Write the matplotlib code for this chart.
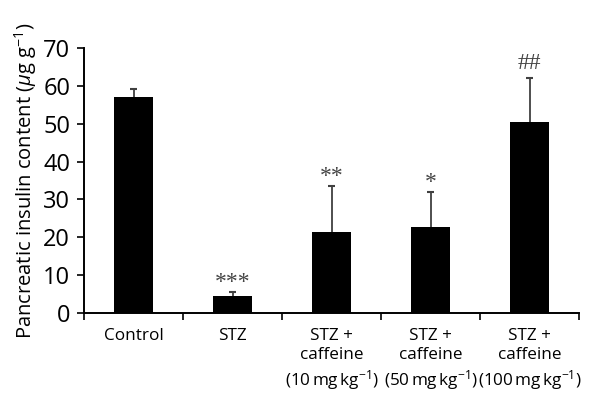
import numpy as np
import matplotlib
matplotlib.use('Agg')
import matplotlib.pyplot as plt
from matplotlib.ticker import FixedLocator

plt.rcParams['font.family'] = ['Open Sans', 'DejaVu Sans']
plt.rcParams['mathtext.fontset'] = 'custom'
plt.rcParams['mathtext.rm'] = 'Open Sans'
plt.rcParams['mathtext.it'] = 'Open Sans:italic'

groups = ['Control', 'STZ', 'STZ +\ncaffeine\n(10$\\,$mg$\\,$kg$^{-1}$)',
          'STZ +\ncaffeine\n(50$\\,$mg$\\,$kg$^{-1}$)',
          'STZ +\ncaffeine\n(100$\\,$mg$\\,$kg$^{-1}$)']
insulin = [57.1, 4.6, 21.4, 22.7, 50.4]
sem = [2.2, 0.9, 12.1, 9.3, 11.6]
marks = ['', '***', '**', '*', '##']

fig = plt.figure(figsize=(6.01, 3.95), dpi=100)
ax = fig.add_axes([0.1398, 0.2076, 0.8236, 0.6709])

x = np.arange(len(groups))
top = np.array(insulin) + np.array(sem)
ax.bar(x, insulin, width=0.4, color='black', zorder=2)
# upper error bars only
ax.vlines(x, insulin, top, color='#404040', lw=1.3, zorder=1)
ax.hlines(top, x - 0.04, x + 0.04, color='#404040', lw=1.5, zorder=1)

for xi, t, m in zip(x, top, marks):
    if m:
        off = 7 if '#' in m else 3
        ax.annotate(m, (xi, t), xytext=(0, off), textcoords='offset points',
                    ha='center', va='baseline', family='Liberation Serif',
                    fontsize=17, color='#444444')

ax.set_xlim(-0.5, 4.5)
ax.set_ylim(0, 70)
ax.set_yticks(np.arange(0, 71, 10))
ax.set_xticks(x)
ax.set_xticklabels(groups, fontsize=12.3, linespacing=1.25)
ax.xaxis.set_minor_locator(FixedLocator(np.arange(-0.5, 4.6, 1)))
ax.tick_params(axis='x', which='major', length=0, pad=11)
ax.tick_params(axis='x', which='minor', length=5, width=1.2, direction='out')
ax.tick_params(axis='y', length=5, width=1.2, labelsize=17, pad=5)

for s in ['top', 'right']:
    ax.spines[s].set_visible(False)
for s in ['left', 'bottom']:
    ax.spines[s].set_linewidth(1.4)

ax.set_ylabel('Pancreatic insulin content ($\\mathit{\\mu}$g g$^{-1}$)', fontsize=14.5, labelpad=3)

fig.savefig('out.png', dpi=100)
